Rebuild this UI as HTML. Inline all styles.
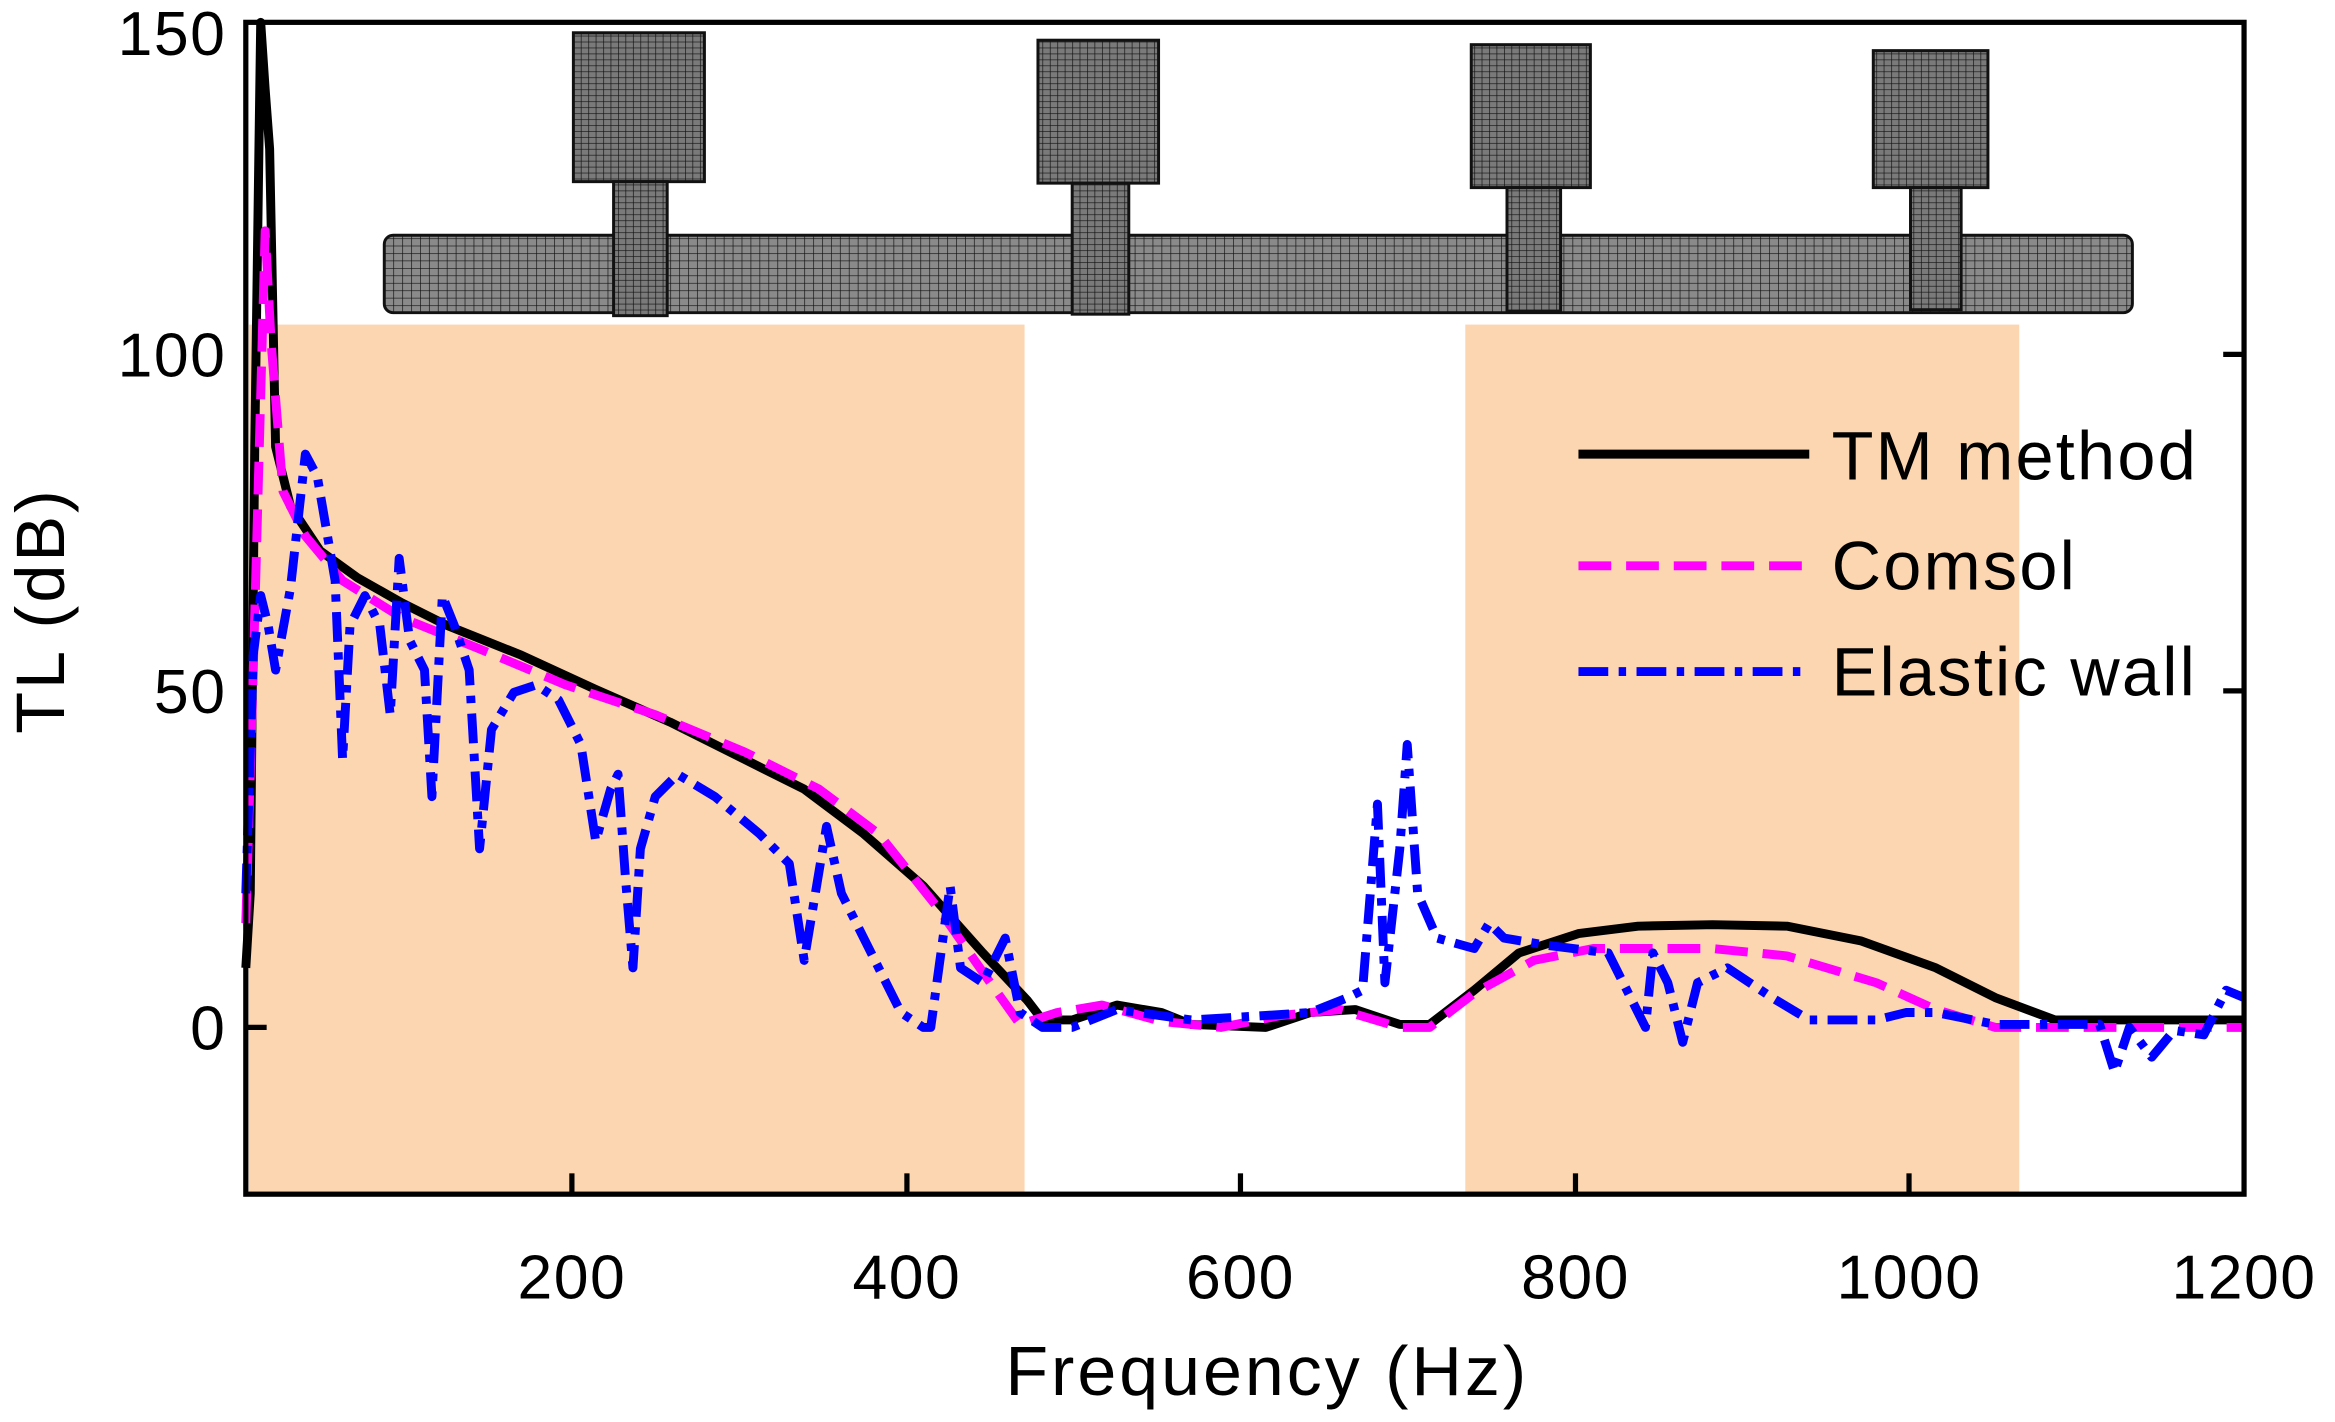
<!DOCTYPE html>
<html><head><meta charset="utf-8"><style>html,body{margin:0;padding:0;background:#fff}svg{display:block}</style></head>
<body>
<svg width="2335" height="1422" viewBox="0 0 1568 955" xmlns="http://www.w3.org/2000/svg" font-family="Liberation Sans, sans-serif">
<defs>
<pattern id="mh" width="6" height="5" patternUnits="userSpaceOnUse">
<rect width="6" height="5" fill="#8a8a8a"/><path d="M0 0H6M0 0V5" stroke="#111" stroke-width="0.9"/>
</pattern>
<pattern id="mv" width="5" height="4" patternUnits="userSpaceOnUse">
<rect width="5" height="4" fill="#7a7a7a"/><path d="M0 0H5M0 0V4" stroke="#111" stroke-width="0.9"/>
</pattern>
</defs>
<rect x="167" y="218" width="521" height="584" fill="#fcd5b1"/>
<rect x="984" y="218" width="372" height="584" fill="#fcd5b1"/>
<rect x="258" y="158" width="1174" height="52" rx="6" fill="url(#mh)" stroke="#111" stroke-width="2"/>
<g fill="url(#mv)" stroke="#111" stroke-width="2">
<rect x="385" y="22" width="88" height="100"/><rect x="412" y="122" width="36" height="90"/>
<rect x="697" y="27" width="81" height="96"/><rect x="720" y="123" width="38" height="88"/>
<rect x="988" y="30" width="80" height="96"/><rect x="1012" y="126" width="36" height="83"/>
<rect x="1258" y="34" width="77" height="92"/><rect x="1283" y="126" width="34" height="82"/>
</g>
<g fill="none" stroke-linejoin="round">
<polyline stroke="#000" stroke-width="6" points="165,650 168,600 171,300 175,15 178,60 181,100 185,300 195,340 215,370 240,388 270,405 300,420 350,440 400,463 450,485 500,510 540,530 580,560 620,595 660,640 690,672 700,685 720,685 750,675 780,680 800,688 850,690 880,680 910,678 940,688 960,688 990,665 1020,640 1060,627 1100,622 1150,621 1200,622 1250,632 1300,650 1340,670 1380,685 1507,685"/>
<polyline stroke="#ff00ff" stroke-width="6" stroke-dasharray="22,10" points="165,620 170,450 178,155 182,230 190,330 205,360 230,390 270,415 320,435 380,460 440,480 500,505 550,530 590,560 630,610 665,660 685,688 710,680 740,675 780,686 820,690 860,682 900,678 940,690 960,690 990,667 1030,645 1070,637 1150,637 1200,642 1260,660 1300,678 1340,690 1507,690"/>
<polyline stroke="#0000ff" stroke-width="6" stroke-dasharray="20,7,5,7" points="165,600 170,440 175,400 180,420 185,450 195,395 205,305 213,320 225,390 230,510 235,420 245,400 255,420 262,480 268,375 275,430 285,450 290,535 297,400 305,420 315,450 322,570 330,490 345,465 360,460 375,470 390,500 400,565 410,530 415,520 420,590 425,650 430,570 440,535 455,520 480,535 510,560 530,580 540,645 555,555 565,600 585,640 605,680 620,690 625,690 638,595 645,650 660,660 675,630 685,680 700,690 720,690 750,678 800,685 850,682 880,680 905,670 915,665 925,540 930,660 940,570 945,500 952,600 965,630 990,637 1000,620 1010,630 1040,635 1080,640 1100,680 1105,690 1110,640 1120,660 1130,700 1140,660 1160,650 1190,670 1215,685 1260,685 1280,680 1300,680 1340,688 1410,688 1420,720 1430,690 1445,710 1460,692 1480,695 1495,665 1507,670"/>
</g>
<rect x="165" y="15" width="1342" height="787" fill="none" stroke="#000" stroke-width="3.5"/>
<g stroke="#000" stroke-width="3.5">
<line x1="384" y1="802" x2="384" y2="788"/><line x1="609" y1="802" x2="609" y2="788"/>
<line x1="833" y1="802" x2="833" y2="788"/><line x1="1058" y1="802" x2="1058" y2="788"/>
<line x1="1282" y1="802" x2="1282" y2="788"/>
<line x1="1507" y1="238" x2="1493" y2="238"/><line x1="1507" y1="464" x2="1493" y2="464"/>
<line x1="165" y1="690" x2="179" y2="690"/>
</g>
<g font-size="42" fill="#000" letter-spacing="1">
<g text-anchor="end">
<text x="152" y="37">150</text><text x="152" y="253">100</text><text x="152" y="479">50</text><text x="152" y="705">0</text>
</g>
<g text-anchor="middle">
<text x="384" y="872">200</text><text x="609" y="872">400</text><text x="833" y="872">600</text>
<text x="1058" y="872">800</text><text x="1282" y="872">1000</text><text x="1507" y="872">1200</text>
</g>
<text x="851" y="937" font-size="47" letter-spacing="2" text-anchor="middle">Frequency (Hz)</text>
<text transform="translate(43,410) rotate(-90)" font-size="46" letter-spacing="2" text-anchor="middle">TL (dB)</text>
</g>
<g fill="none" stroke-width="6">
<line x1="1060" y1="305" x2="1215" y2="305" stroke="#000"/>
<line x1="1060" y1="380" x2="1210" y2="380" stroke="#ff00ff" stroke-dasharray="22,10"/>
<line x1="1060" y1="451" x2="1215" y2="451" stroke="#0000ff" stroke-dasharray="20,7,5,7"/>
</g>
<g font-size="46" fill="#000" letter-spacing="1.5">
<text x="1230" y="322">TM method</text>
<text x="1230" y="396">Comsol</text>
<text x="1230" y="467">Elastic wall</text>
</g>
</svg>
</body></html>
